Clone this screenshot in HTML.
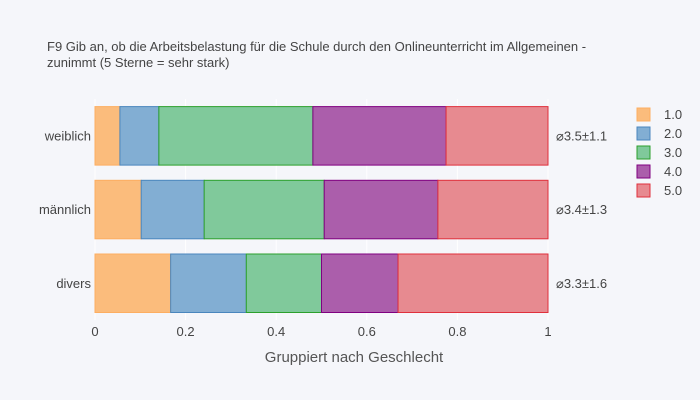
<!DOCTYPE html>
<html><head><meta charset="utf-8"><style>
body{margin:0;background:#f5f6fa;}
svg{display:block;font-family:"Liberation Sans",sans-serif;}
</style></head><body>
<svg id="chart" width="700" height="400">
<rect width="700" height="400" fill="#f5f6fa"/>
<text x="47" y="51" font-size="13" fill="#444">F9 Gib an, ob die Arbeitsbelastung für die Schule durch den Onlineunterricht im Allgemeinen  -</text>
<text x="47" y="67" font-size="13" fill="#444">zunimmt (5 Sterne = sehr stark)</text>
<g id="grid"></g><g id="bars"></g><g id="axes"></g><g id="legend"></g>
<text x="354" y="362" font-size="15" fill="#555" text-anchor="middle">Gruppiert nach Geschlecht</text>
</svg>
<script>
const categories=["weiblich","männlich","divers"];
const seriesNames=["1.0","2.0","3.0","4.0","5.0"];
const s1=[0.055,0.102,0.167];
const s2=[0.086,0.139,0.167];
const s3=[0.340,0.265,0.166];
const s4=[0.294,0.251,0.169];
const s5=[0.225,0.243,0.331];
const annotations=["⌀3.5±1.1","⌀3.4±1.3","⌀3.3±1.6"];
const xTicks=[0,0.2,0.4,0.6,0.8,1];
const series=[s1,s2,s3,s4,s5];
const fills=["#fbbc7c","#82aed3","#80c99b","#ab5eab","#e78a90"];
const strokes=["#fdae61","#4a86bd","#2ca02c","#800080","#e0303c"];
const NS="http://www.w3.org/2000/svg";
const x0=95,x1=548,yTop=99,bandH=73.7,barH=58.5;
const xs=v=>x0+v*(x1-x0);
const yc=i=>yTop+bandH*(i+0.5);
function mk(tag,attrs,parent){const e=document.createElementNS(NS,tag);for(const k in attrs)e.setAttribute(k,attrs[k]);document.getElementById(parent).appendChild(e);return e;}
xTicks.forEach((t,i)=>{
 const l=mk("line",{x1:xs(t),x2:xs(t),y1:yTop,y2:320,stroke:"#fff","stroke-width":1},"grid");
 
 
 const tx=mk("text",{x:xs(t),y:336,"font-size":13,fill:"#444","text-anchor":"middle"},"axes");
 tx.textContent=String(t);
 
 
});
categories.forEach((c,i)=>{
 let cum=0;
 series.forEach((s,j)=>{
  const v=s[i];
  const r=mk("rect",{x:xs(cum),y:yc(i)-barH/2,width:xs(cum+v)-xs(cum),height:barH,fill:fills[j],stroke:strokes[j],"stroke-width":1},"bars");
  
  
  cum+=v;
 });
 const lab=mk("text",{x:91,y:yc(i)+4.5,"font-size":13,fill:"#444","text-anchor":"end"},"axes");
 lab.textContent=c;
 
 
 const an=mk("text",{x:556,y:yc(i)+4.5,"font-size":13,fill:"#444"},"axes");
 an.textContent=annotations[i];
 
 
});
seriesNames.forEach((n,j)=>{
 const y=114+j*19;
 const r=mk("rect",{x:637,y:y-6,width:13,height:13,fill:fills[j],stroke:strokes[j],"stroke-width":1},"legend");
 
 
 const t=mk("text",{x:664,y:y+5,"font-size":13,fill:"#444"},"legend");
 t.textContent=n;
 
 
});
</script>
</body></html>
